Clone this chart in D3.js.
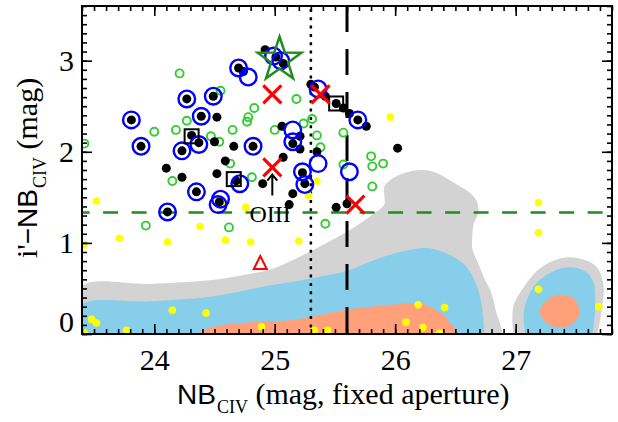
<!DOCTYPE html>
<html>
<head>
<meta charset="utf-8">
<script src="https://cdn.jsdelivr.net/npm/d3@7"></script>
<style>
  body { margin: 0; background: #fff; }
  svg { display: block; }
</style>
</head>
<body>
<script>
// NB_CIV magnitude vs i'-NB_CIV colour
const blackDots = [
  [23.81, 2.35], [23.89, 2.06], [24.27, 2.58], [24.49, 2.61], [24.70, 2.92],
  [24.74, 2.88], [24.39, 2.39], [24.52, 2.38], [24.31, 2.18], [24.37, 2.10],
  [24.23, 2.01], [24.50, 2.11], [24.66, 2.06], [24.82, 2.06], [24.10, 1.82],
  [24.23, 1.72], [24.35, 1.56], [24.59, 1.90], [24.52, 1.76], [24.68, 1.68],
  [24.54, 1.45], [24.11, 1.34], [24.92, 3.12], [25.01, 3.04], [25.07, 2.97],
  [25.30, 2.74], [25.33, 2.71], [25.42, 2.61], [25.51, 2.53], [25.57, 2.48],
  [25.62, 2.42], [25.69, 2.35], [25.76, 2.28], [25.06, 2.28], [25.21, 2.17],
  [25.15, 2.09], [25.21, 2.03], [25.35, 2.00], [26.02, 2.04], [25.07, 1.94],
  [25.23, 1.77], [25.25, 1.65], [24.90, 1.65], [25.15, 1.54], [25.12, 1.42],
  [25.51, 1.39], [25.60, 1.43],
];

const blueRings = [
  [23.81, 2.35], [23.89, 2.06], [24.27, 2.58], [24.49, 2.61], [24.70, 2.92],
  [24.78, 2.82], [24.39, 2.39], [24.37, 2.08], [24.23, 2.01], [24.82, 2.06],
  [24.35, 1.56], [24.71, 1.65], [24.55, 1.48], [24.53, 1.42], [24.11, 1.34],
  [24.99, 3.05], [25.05, 3.00], [25.36, 2.69], [25.69, 2.35], [25.15, 2.24],
  [25.15, 2.11], [25.23, 1.78], [25.25, 1.64], [25.36, 1.87], [25.62, 1.78],
];

const greenRings = [
  [23.42, 2.09], [24.00, 2.22], [24.18, 2.24], [24.27, 2.34], [24.21, 2.86],
  [24.55, 2.67], [24.47, 2.17], [24.54, 2.11], [24.65, 2.24], [24.78, 2.38],
  [24.77, 2.33], [24.83, 2.48], [25.18, 2.58], [25.31, 2.36], [25.24, 2.31],
  [25.00, 2.24], [25.35, 2.18], [25.57, 2.21], [25.38, 2.05], [24.15, 1.68],
  [24.63, 1.87], [24.81, 1.72], [25.57, 1.86], [25.80, 1.95], [25.81, 1.84],
  [25.90, 1.87], [25.81, 1.62], [23.93, 1.19], [24.62, 1.17], [25.42, 1.21],
];

const yellowDots = [
  [23.52, 1.46], [23.71, 1.05], [24.11, 1.01], [23.42, 0.98], [24.38, 1.18],
  [24.59, 1.03], [24.80, 1.01], [24.76, 1.39], [24.57, 1.43], [25.35, 1.68],
  [25.28, 1.52], [25.96, 2.38], [27.19, 1.44], [27.19, 1.11], [27.19, 0.49],
  [27.69, 0.30], [24.15, 0.26], [24.43, 0.23], [23.48, 0.16], [23.52, 0.12],
  [23.77, 0.04], [23.42, 0.01], [24.89, 0.08], [25.33, 0.04], [25.44, 0.04],
  [26.09, 0.13], [26.19, 0.32], [26.23, 0.07], [26.41, 0.29], [26.37, 0.01],
  [25.20, 1.02],
];

const redCrosses = [[24.98, 2.63], [25.38, 2.63], [24.98, 1.83], [25.67, 1.42]];
const squares = [[24.31, 2.17], [25.51, 2.53], [24.66, 1.70]];
const stars = [[25.04, 3.01]];
const triangles = [[24.88, 0.78]];
const arrows = [[24.98, 1.52, 1.75]];
const labels = [[24.79, 1.23, "OIII"]];

const colourCut = 1.333;
const dottedCut = 25.3;
const dashedCut = 25.6;

const xTicks = [24, 25, 26, 27];
const yTicks = [0, 1, 2, 3];

// filled contours of the comparison sample
const grayContour = [
  [23.40, 0], [23.40, 0.52], [23.96, 0.55], [24.46, 0.59], [24.71, 0.64],
  [24.99, 0.72], [25.21, 0.85], [25.43, 1.00], [25.62, 1.14], [25.81, 1.31],
  [25.91, 1.42], [25.91, 1.51], [25.91, 1.62], [25.96, 1.69], [26.04, 1.75],
  [26.14, 1.79], [26.23, 1.80], [26.34, 1.77], [26.45, 1.69], [26.55, 1.61],
  [26.62, 1.55], [26.68, 1.45], [26.69, 1.33], [26.65, 1.20], [26.64, 1.06],
  [26.64, 0.94], [26.70, 0.74], [26.74, 0.61], [26.79, 0.48], [26.82, 0.35],
  [26.84, 0.23], [26.87, 0.12], [26.89, 0],
];
const blueContour = [
  [23.40, 0], [23.40, 0.32], [23.96, 0.36], [24.46, 0.41], [24.99, 0.54],
  [25.30, 0.61], [25.62, 0.70], [25.73, 0.76], [25.96, 0.87], [26.20, 0.94],
  [26.29, 0.94], [26.45, 0.87], [26.59, 0.74], [26.68, 0.52], [26.72, 0.30],
  [26.74, 0],
];
const salmonContour = [
  [24.36, 0], [24.46, 0.07], [24.79, 0.13], [25.13, 0.15], [25.31, 0.19],
  [25.61, 0.27], [26.04, 0.33], [26.15, 0.34], [26.25, 0.32], [26.33, 0.27],
  [26.41, 0.20], [26.45, 0.13], [26.49, 0.07], [26.51, 0],
];
const grayIsland = [
  [26.98, 0], [26.98, 0.30], [27.05, 0.48], [27.20, 0.72], [27.37, 0.83],
  [27.53, 0.83], [27.67, 0.74], [27.73, 0.52], [27.71, 0.23], [27.68, 0],
];
const blueIsland = [
  [27.08, 0], [27.07, 0.26], [27.15, 0.52], [27.26, 0.65], [27.42, 0.73],
  [27.56, 0.70], [27.64, 0.59], [27.66, 0.30], [27.64, 0],
];
const salmonIsland = [
  [27.20, 0.245], [27.26, 0.37], [27.37, 0.43], [27.48, 0.39], [27.53, 0.245],
  [27.48, 0.12], [27.37, 0.07], [27.26, 0.12],
];

const width = 618;
const height = 422;
const pLeft = 82, pRight = 612, pTop = 6, pBottom = 334;
const serif = "'Liberation Serif', 'Times New Roman', serif";
const sans = "'Liberation Sans', Arial, sans-serif";

const x = d3.scaleLinear().domain([23.4, 27.8]).range([pLeft, pRight]);
const y = d3.scaleLinear().domain([0, 3.6]).range([pBottom, pTop]);

const svg = d3
  .select("body")
  .append("svg")
  .attr("width", width)
  .attr("height", height);

svg
  .append("clipPath")
  .attr("id", "plot")
  .append("rect")
  .attr("x", pLeft)
  .attr("y", pTop)
  .attr("width", pRight - pLeft)
  .attr("height", pBottom - pTop);

const plot = svg.append("g").attr("clip-path", "url(#plot)");

const openLine = d3
  .line()
  .x((d) => x(d[0]))
  .y((d) => y(d[1]))
  .curve(d3.curveCatmullRom.alpha(0.5));
const closedLine = d3
  .line()
  .x((d) => x(d[0]))
  .y((d) => y(d[1]))
  .curve(d3.curveCatmullRomClosed.alpha(0.5));

[
  [grayContour, "#d3d3d3", openLine],
  [blueContour, "#87ceeb", openLine],
  [salmonContour, "#ffa07a", openLine],
  [grayIsland, "#d3d3d3", openLine],
  [blueIsland, "#87ceeb", openLine],
  [salmonIsland, "#ffa07a", closedLine],
].forEach(([pts, fill, gen]) => {
  plot.append("path").attr("d", gen(pts) + "Z").attr("fill", fill);
});

// selection cuts
plot
  .append("line")
  .attr("x1", pLeft)
  .attr("x2", pRight)
  .attr("y1", y(colourCut))
  .attr("y2", y(colourCut))
  .attr("stroke", "#228b22")
  .attr("stroke-width", 2.5)
  .attr("stroke-dasharray", "15,13.5")
  .attr("stroke-dashoffset", 7.4);

plot
  .append("line")
  .attr("x1", x(dottedCut))
  .attr("x2", x(dottedCut))
  .attr("y1", pTop)
  .attr("y2", pBottom)
  .attr("stroke", "#000")
  .attr("stroke-width", 2.5)
  .attr("stroke-dasharray", "3,5.3")
  .attr("stroke-dashoffset", -3);

plot
  .append("line")
  .attr("x1", x(dashedCut))
  .attr("x2", x(dashedCut))
  .attr("y1", pTop)
  .attr("y2", pBottom)
  .attr("stroke", "#000")
  .attr("stroke-width", 3)
  .attr("stroke-dasharray", "26,17");

plot
  .selectAll(".yellow")
  .data(yellowDots)
  .join("circle")
  .attr("cx", (d) => x(d[0]))
  .attr("cy", (d) => y(d[1]))
  .attr("r", 3.8)
  .attr("fill", "#ffff00");

plot
  .selectAll(".green")
  .data(greenRings)
  .join("circle")
  .attr("cx", (d) => x(d[0]))
  .attr("cy", (d) => y(d[1]))
  .attr("r", 4)
  .attr("fill", "none")
  .attr("stroke", "#32cd32")
  .attr("stroke-width", 1.9);

plot
  .selectAll(".black")
  .data(blackDots)
  .join("circle")
  .attr("cx", (d) => x(d[0]))
  .attr("cy", (d) => y(d[1]))
  .attr("r", 4.5)
  .attr("fill", "#000");

plot
  .selectAll(".blue")
  .data(blueRings)
  .join("circle")
  .attr("cx", (d) => x(d[0]))
  .attr("cy", (d) => y(d[1]))
  .attr("r", 8.3)
  .attr("fill", "none")
  .attr("stroke", "#0000ff")
  .attr("stroke-width", 2.4);

plot
  .selectAll(".square")
  .data(squares)
  .join("rect")
  .attr("x", (d) => x(d[0]) - 7)
  .attr("y", (d) => y(d[1]) - 7)
  .attr("width", 14)
  .attr("height", 14)
  .attr("fill", "none")
  .attr("stroke", "#000")
  .attr("stroke-width", 2);

plot
  .selectAll(".cross")
  .data(redCrosses)
  .join("path")
  .attr("transform", (d) => `translate(${x(d[0])} ${y(d[1])})`)
  .attr("d", "M-9,-9L9,9M-9,9L9,-9")
  .attr("stroke", "#ff0000")
  .attr("stroke-width", 3.2)
  .attr("fill", "none");

const starPath = d3
  .lineRadial()
  .curve(d3.curveLinearClosed)(
    d3.range(10).map((i) => [(i * Math.PI) / 5, i % 2 ? 9 : 23])
  );

plot
  .selectAll(".star")
  .data(stars)
  .join("path")
  .attr("transform", (d) => `translate(${x(d[0])} ${y(d[1])})`)
  .attr("d", starPath)
  .attr("fill", "none")
  .attr("stroke", "#228b22")
  .attr("stroke-width", 2.5)
  .attr("stroke-linejoin", "miter");

plot
  .selectAll(".tri")
  .data(triangles)
  .join("path")
  .attr("transform", (d) => `translate(${x(d[0])} ${y(d[1])})`)
  .attr("d", "M0,-7L6.5,6L-6.5,6Z")
  .attr("fill", "none")
  .attr("stroke", "#ff0000")
  .attr("stroke-width", 2);

plot
  .selectAll(".arrow")
  .data(arrows)
  .join("path")
  .attr(
    "d",
    ([ax, y0, y1]) =>
      `M${x(ax)},${y(y0)}V${y(y1)}M${x(ax) - 5},${y(y1) + 6}L${x(ax)},${y(y1)}L${x(ax) + 5},${y(y1) + 6}`
  )
  .attr("stroke", "#000")
  .attr("stroke-width", 2)
  .attr("fill", "none");

plot
  .selectAll(".label")
  .data(labels)
  .join("text")
  .attr("x", (d) => x(d[0]))
  .attr("y", (d) => y(d[1]))
  .text((d) => d[2])
  .attr("font-family", serif)
  .attr("font-size", 24)
  .attr("fill", "#000");

// axes: inward ticks on all four sides
const minorX = d3.range(234, 279).map((d) => d / 10);
const minorY = d3.range(0, 37).map((d) => d / 10);

const axes = svg.append("g");
const addAxis = (axis, tx, ty) =>
  axes.append("g").attr("transform", `translate(${tx} ${ty})`).call(axis);

const styleAxis = (g) => {
  g.select(".domain").remove();
  g.selectAll("line").attr("stroke", "#000").attr("stroke-width", 1.6);
  g.selectAll("text")
    .attr("font-family", serif)
    .attr("font-size", 30)
    .attr("fill", "#000");
};

[
  [d3.axisBottom(x).tickValues(minorX).tickSize(-5).tickFormat(""), 0, pBottom],
  [d3.axisTop(x).tickValues(minorX).tickSize(-5).tickFormat(""), 0, pTop],
  [d3.axisLeft(y).tickValues(minorY).tickSize(-5).tickFormat(""), pLeft, 0],
  [d3.axisRight(y).tickValues(minorY).tickSize(-5).tickFormat(""), pRight, 0],
  [d3.axisTop(x).tickValues(xTicks).tickSize(-10).tickFormat(""), 0, pTop],
  [d3.axisRight(y).tickValues(yTicks).tickSize(-10).tickFormat(""), pRight, 0],
].forEach(([axis, tx, ty]) => addAxis(axis, tx, ty).call(styleAxis));

addAxis(
  d3.axisBottom(x).tickValues(xTicks).tickSize(-10).tickPadding(15).tickFormat(d3.format("d")),
  0,
  pBottom
).call(styleAxis);

const yAxisG = addAxis(
  d3.axisLeft(y).tickValues(yTicks).tickSize(-10).tickPadding(8).tickFormat(d3.format("d")),
  pLeft,
  0
).call(styleAxis);

yAxisG
  .selectAll(".tick text")
  .filter((d) => d === 0)
  .attr("dy", "-0.07em");

svg
  .append("rect")
  .attr("x", pLeft)
  .attr("y", pTop)
  .attr("width", pRight - pLeft)
  .attr("height", pBottom - pTop)
  .attr("fill", "none")
  .attr("stroke", "#000")
  .attr("stroke-width", 2);

// axis titles
const xTitle = svg
  .append("text")
  .attr("x", 177)
  .attr("y", 404)
  .attr("font-family", serif)
  .attr("font-size", 30)
  .attr("fill", "#000");
xTitle.append("tspan").attr("font-family", sans).attr("font-size", 28).text("NB");
xTitle.append("tspan").attr("font-size", 18).attr("dy", 9).attr("dx", 1).text("CIV");
xTitle.append("tspan").attr("dy", -9).text(" (mag, fixed aperture)");

const yTitle = svg
  .append("text")
  .attr("transform", "translate(37 258) rotate(-90)")
  .attr("font-family", serif)
  .attr("font-size", 30)
  .attr("fill", "#000");
yTitle.append("tspan").text("i'");
yTitle.append("tspan").attr("font-family", sans).attr("font-size", 28).text("\u2212NB");
yTitle.append("tspan").attr("font-size", 18).attr("dy", 9).attr("dx", 1).text("CIV");
yTitle.append("tspan").attr("dy", -9).text(" (mag)");
</script>
</body>
</html>
